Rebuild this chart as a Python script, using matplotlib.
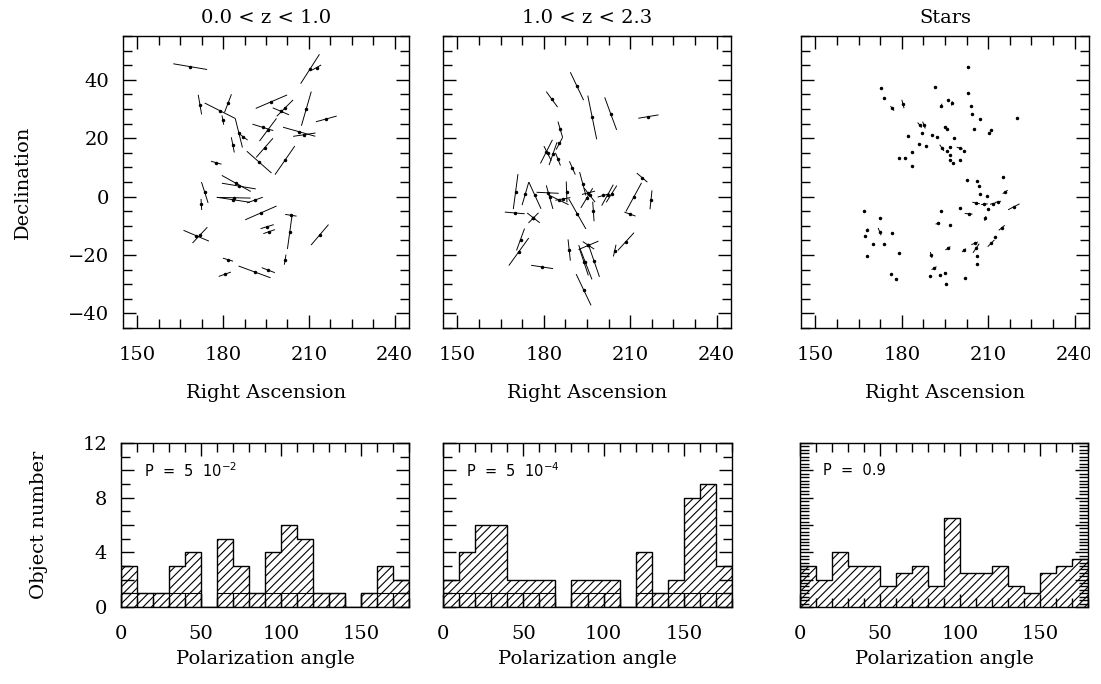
import numpy as np
import matplotlib
matplotlib.use("Agg")
import matplotlib.pyplot as plt
from matplotlib.ticker import MultipleLocator, FuncFormatter
from matplotlib.transforms import Bbox, TransformedBbox

plt.rcParams['font.family'] = ['DejaVu Serif']
plt.rcParams['hatch.linewidth'] = 0.8

# polarization vectors: RA, Dec (deg), vector length (plot units), orientation on plot (deg)
ra1 = [168.5, 210.4, 212.7, 171.9, 178.9, 185.5, 187.0, 181.7, 179.9, 196.9,
       200.2, 195.7, 201.6, 193.9, 209.1, 216.1, 206.6, 208.4, 183.4, 194.5,
       192.6, 201.6, 177.6, 173.6, 172.4, 184.6, 185.5, 183.6, 183.7, 191.1,
       193.2, 203.7, 203.3, 201.7, 195.4, 196.1, 170.6, 171.9, 213.8, 181.7,
       191.0, 195.8, 180.6]
dec1 = [44.5, 43.7, 44.2, 31.5, 29.4, 21.8, 20.5, 31.9, 26.2, 32.5,
        29.2, 22.9, 30.3, 23.7, 30.1, 26.6, 22.2, 21.2, 17.7, 16.7,
        11.8, 12.4, 11.6, 1.4, -2.7, 4.5, 3.6, -1.1, -0.4, -1.2,
        -5.6, -6.4, -12.2, -21.6, -10.3, -12.0, -13.4, -13.2, -13.1, -21.6,
        -25.8, -25.2, -26.6]
len1 = [12.0, 12.0, 3.6, 6.8, 11.9, 10.3, 3.9, 6.7, 3.2, 11.9,
        6.2, 9.8, 8.0, 7.6, 12.2, 7.5, 11.7, 7.9, 5.3, 8.8,
        11.4, 12.0, 3.8, 7.5, 3.8, 11.5, 12.0, 11.7, 11.8, 5.9,
        11.9, 4.0, 11.6, 3.5, 4.8, 4.3, 9.6, 7.5, 9.3, 3.7,
        11.9, 4.9, 4.5]
ang1 = [-9.4, 56.8, 29.0, -80.0, -26.3, -75.8, -36.5, 68.7, -79.5, 22.8,
        -22.8, 52.6, 44.4, -16.8, 73.6, 15.1, -15.4, 8.4, -78.7, 48.2,
        -40.9, 54.8, -15.7, -72.1, -86.5, -28.6, -9.4, -8.4, -1.1, 19.5,
        23.3, -8.4, 82.0, 80.5, 16.7, 18.9, -22.6, 46.2, 49.0, -16.2,
        -19.8, -20.6, 19.4]

ra2 = [191.5, 182.8, 196.8, 203.2, 216.3, 185.7, 180.9, 181.3, 183.2, 184.9,
       185.4, 189.9, 170.2, 173.6, 176.9, 182.0, 181.3, 185.1, 187.9, 186.6,
       191.6, 193.5, 194.9, 195.5, 195.9, 197.2, 202.1, 200.7, 203.5, 211.2,
       214.1, 217.2, 209.9, 169.9, 176.4, 176.4, 171.9, 171.3, 179.4, 188.8,
       194.4, 193.9, 197.4, 195.5, 195.5, 193.8, 204.6, 208.5]
dec2 = [37.8, 33.3, 27.1, 28.4, 27.4, 23.0, 15.4, 14.8, 14.7, 12.8,
        18.2, 9.8, 1.7, 1.0, 0.4, -0.2, 1.3, -1.1, 1.6, -0.8,
        -5.9, 4.4, -0.5, 1.3, 0.5, -5.1, 0.5, 0.4, 0.9, -0.2,
        6.5, -1.1, -6.0, -5.6, -7.3, -7.3, -14.7, -18.9, -24.1, -18.3,
        -22.5, -22.4, -22.0, -16.7, -16.7, -31.9, -18.5, -15.4]
len2 = [10.6, 6.6, 15.3, 11.9, 7.1, 5.6, 9.1, 5.6, 8.3, 4.7,
        4.8, 5.0, 12.1, 8.2, 10.1, 8.4, 7.7, 7.7, 7.1, 5.3,
        12.0, 8.3, 7.9, 4.7, 6.1, 6.7, 8.2, 4.2, 6.8, 11.2,
        4.8, 6.5, 4.1, 6.9, 5.5, 4.9, 8.0, 11.7, 7.7, 7.3,
        12.6, 9.7, 11.6, 7.5, 4.7, 11.9, 4.1, 8.3]
ang2 = [-64.3, -53.5, -78.3, -69.6, 9.3, -73.4, 62.8, -62.9, 70.6, -68.5,
        61.6, -65.8, 82.3, 73.6, -65.2, -74.0, -2.6, -25.8, -88.0, 10.0,
        -60.0, -74.8, 58.6, 14.0, -51.8, -86.0, 60.6, 16.0, 57.4, 61.1,
        -40.2, 83.9, -19.4, -4.8, -37.4, 45.0, 69.7, 53.8, -8.6, -83.7,
        -68.6, -71.4, -70.8, 22.6, -32.9, -64.2, 77.1, 47.2]

ra3 = [202.9, 172.7, 191.4, 202.9, 173.8, 196.2, 204.1, 193.7, 197.4, 204.3,
       207.2, 219.9, 176.7, 180.4, 186.2, 187.7, 194.9, 195.8, 205.0, 211.0,
       210.2, 182.1, 187.1, 190.6, 192.2, 198.3, 186.0, 188.3, 193.9, 196.6,
       195.8, 200.1, 201.6, 183.5, 179.2, 181.0, 196.9, 196.6, 197.7, 200.3,
       183.5, 202.7, 206.2, 206.8, 215.1, 207.0, 209.7, 215.9, 205.8, 208.7,
       211.6, 213.4, 210.1, 218.9, 200.1, 203.2, 193.5, 209.0, 192.5, 196.8,
       166.9, 172.3, 168.0, 167.3, 172.3, 176.7, 170.0, 173.8, 168.0, 179.2,
       196.0, 201.6, 205.3, 205.8, 214.7, 212.4, 211.0, 206.2, 206.1, 190.2,
       191.2, 176.4, 177.9, 189.8, 193.1, 194.9, 195.4, 202.0]
dec3 = [44.5, 37.2, 37.4, 35.5, 33.8, 33.2, 31.1, 31.1, 31.9, 28.3,
        26.4, 26.8, 30.2, 31.7, 24.5, 24.5, 23.8, 23.0, 23.0, 22.8,
        21.7, 20.9, 21.7, 21.1, 20.3, 20.0, 18.0, 17.3, 16.7, 16.9,
        15.7, 16.6, 15.6, 15.2, 13.3, 13.3, 14.1, 12.6, 11.5, 12.6,
        10.5, 5.7, 5.3, 3.6, 6.6, 0.8, 0.2, 1.6, -2.2, -2.6,
        -2.4, -1.8, -4.3, -3.5, -3.9, -5.9, -5.0, -7.5, -9.2, -9.9,
        -5.0, -7.5, -11.4, -13.4, -12.0, -12.6, -16.4, -16.4, -20.5, -19.4,
        -17.7, -18.4, -16.0, -17.7, -10.7, -13.8, -16.0, -20.3, -23.2, -20.0,
        -24.5, -26.6, -28.2, -27.3, -27.0, -26.1, -29.8, -28.0]
len3 = [0.5, 0.5, 0.5, 0.5, 0.5, 0.5, 0.5, 1.5, 1.5, 0.5,
        0.5, 0.5, 2.0, 3.0, 2.2, 2.5, 0.5, 0.5, 0.5, 0.5,
        0.5, 0.5, 0.5, 0.5, 0.5, 0.5, 0.5, 0.5, 2.6, 0.5,
        0.5, 2.2, 0.5, 0.5, 0.5, 0.5, 0.5, 0.5, 0.5, 0.5,
        0.5, 0.5, 0.5, 0.5, 0.5, 0.5, 0.5, 2.1, 2.7, 2.3,
        2.0, 2.1, 0.5, 4.5, 0.5, 2.7, 0.5, 1.7, 1.6, 0.5,
        0.5, 0.5, 1.0, 0.5, 2.7, 0.5, 0.5, 0.5, 0.5, 0.5,
        2.1, 1.8, 2.5, 3.8, 2.7, 1.0, 3.3, 0.5, 0.5, 2.1,
        2.0, 0.5, 0.5, 0.5, 0.5, 0.5, 0.5, 0.5]
ang3 = [90, 60, 60, 60, 60, 60, 60, 70, 80, 60,
        60, 60, -52, -75, -51, -68, 60, 60, 60, 60,
        60, 60, 60, 60, 60, 60, 60, 60, -55, 60,
        60, -18, 60, 60, 60, 60, 60, 60, 60, 60,
        60, 60, 60, 60, 60, 60, 60, 34, -12, 6,
        13, 12, 60, 27, 60, -5, 60, 74, 17, 60,
        60, 60, 60, 60, -68, 60, 60, 60, 60, 60,
        34, 40, 22, 55, 40, 40, 45, 60, 60, -74,
        31, 60, 60, 60, 60, 60, 60, 60]

# polarization angle histograms (10 deg bins)
bin_edges = np.arange(0, 190, 10)
counts1 = [3, 1, 1, 3, 4, 0, 5, 3, 1, 4, 6, 5, 1, 1, 0, 1, 3, 2]
counts2 = [2, 4, 6, 6, 2, 2, 2, 0, 2, 2, 2, 0, 4, 1, 2, 8, 9, 3]
counts3 = [6, 4, 8, 6, 6, 3, 5, 6, 3, 13, 5, 5, 6, 3, 2, 5, 6, 7]

titles = ["0.0 < z < 1.0", "1.0 < z < 2.3", "Stars"]
prob_labels = ["P  =  5  10$^{-2}$", "P  =  5  10$^{-4}$", "P  =  0.9"]

fig = plt.figure(figsize=(11.01, 6.84), dpi=100)

top_pos = [[0.1117, 0.5205, 0.2598, 0.4269],
           [0.4024, 0.5205, 0.2616, 0.4269],
           [0.7275, 0.5205, 0.2616, 0.4269]]
bot_pos = [[0.1099, 0.1126, 0.2616, 0.2397],
           [0.4024, 0.1126, 0.2625, 0.2397],
           [0.7266, 0.1126, 0.2616, 0.2397]]

# the original page is cut just past the right frame
page_clip = TransformedBbox(Bbox([[0, 0], [10.90, 6.84]]), fig.dpi_scale_trans)


def style_axis(ax):
    ax.tick_params(which='both', direction='in', top=True, right=True,
                   width=1, labelsize=14)
    ax.tick_params(axis='x', which='both', pad=13)
    ax.tick_params(axis='y', which='both', pad=10)
    ax.tick_params(which='major', length=9.5)
    ax.tick_params(which='minor', length=6.5)
    for s in ax.spines.values():
        s.set_linewidth(1)


vectors = [(ra1, dec1, len1, ang1), (ra2, dec2, len2, ang2), (ra3, dec3, len3, ang3)]

for i, (ra, dec, ln, an) in enumerate(vectors):
    ax = fig.add_axes(top_pos[i])
    ra = np.array(ra); dec = np.array(dec)
    ln = np.array(ln); an = np.radians(an)
    ax.quiver(ra, dec, ln * np.cos(an), ln * np.sin(an), angles='xy',
              scale_units='xy', scale=1, pivot='mid', headwidth=0,
              headlength=0, headaxislength=0, width=0.0033, color='black')
    ax.plot(ra, dec, 'k.', ms=3)
    ax.set_xlim(145, 245)
    ax.set_ylim(-45, 55)
    ax.xaxis.set_major_locator(MultipleLocator(30))
    ax.xaxis.set_minor_locator(MultipleLocator(7.5))
    ax.yaxis.set_major_locator(MultipleLocator(20))
    ax.yaxis.set_minor_locator(MultipleLocator(5))
    style_axis(ax)
    ax.set_title(titles[i], fontsize=14, pad=9)
    ax.set_xlabel("Right Ascension", fontsize=14)
    ax.xaxis.set_label_coords(0.5, -0.193)
    if i == 0:
        ax.set_ylabel("Declination", fontsize=14)
        ax.yaxis.set_label_coords(-0.318, 0.5)
    else:
        ax.tick_params(labelleft=False)
    if i == 2:
        for t in ax.xaxis.get_major_ticks(5):
            t.label1.set_clip_box(page_clip)
            t.label1.set_clip_on(True)

hists = [counts1, counts2, counts3]
for i, counts in enumerate(hists):
    ax = fig.add_axes(bot_pos[i])
    counts = np.array(counts)
    ax.bar(bin_edges[:-1], counts, width=10, align='edge', facecolor='white',
           edgecolor='black', linewidth=0, hatch='////')
    ax.stairs(counts, bin_edges, color='black', linewidth=1)
    ax.set_xlim(0, 180)
    ax.xaxis.set_major_locator(MultipleLocator(50))
    ax.xaxis.set_minor_locator(MultipleLocator(10))
    if i < 2:
        ax.bar(bin_edges[:-1], np.minimum(counts, 1), width=10, align='edge',
               fill=False, edgecolor='black', linewidth=0.8)
        ax.set_ylim(0, 12)
        ax.yaxis.set_major_locator(MultipleLocator(2))
        ax.yaxis.set_minor_locator(MultipleLocator(1))
        ax.yaxis.set_major_formatter(FuncFormatter(
            lambda v, p: f"{v:.0f}" if round(v) % 4 == 0 else ""))
    else:
        ax.set_ylim(0, 24)
        ax.yaxis.set_major_locator(MultipleLocator(4))
        ax.yaxis.set_minor_locator(MultipleLocator(0.5))
    style_axis(ax)
    ax.text(0.08, 0.83, prob_labels[i], transform=ax.transAxes,
            fontsize=10.5, family='DejaVu Sans', va='center', ha='left')
    ax.set_xlabel("Polarization angle", fontsize=14)
    ax.xaxis.set_label_coords(0.5, -0.265)
    if i == 0:
        ax.set_ylabel("Object number", fontsize=14)
        ax.yaxis.set_label_coords(-0.253, 0.5)
    else:
        ax.tick_params(labelleft=False)

fig.savefig("out.png", dpi=100)
